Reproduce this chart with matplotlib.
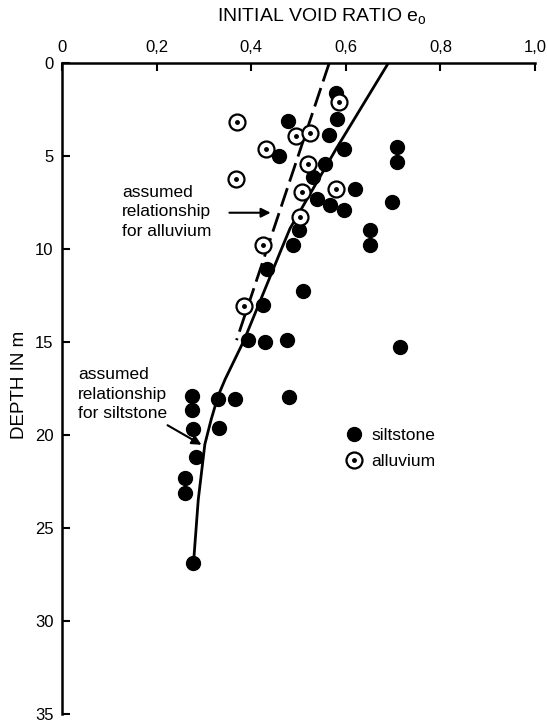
import matplotlib
matplotlib.use("Agg")
import matplotlib.pyplot as plt
from matplotlib.lines import Line2D
from matplotlib.legend_handler import HandlerTuple

plt.rcParams['font.family'] = ['Liberation Sans', 'DejaVu Sans']

# siltstone samples (void ratio, depth m)
silt_e = [0.579, 0.581, 0.477, 0.564, 0.459, 0.597, 0.709, 0.709, 0.557, 0.531,
          0.540, 0.619, 0.698, 0.567, 0.596, 0.501, 0.651, 0.651, 0.489, 0.434,
          0.509, 0.426, 0.393, 0.429, 0.476, 0.715, 0.275, 0.275, 0.330, 0.366,
          0.479, 0.278, 0.332, 0.283, 0.260, 0.259, 0.278]
silt_d = [1.63, 3.03, 3.1, 3.87, 5.0, 4.64, 4.5, 5.3, 5.43, 6.15,
          7.3, 6.77, 7.46, 7.63, 7.9, 8.97, 8.97, 9.78, 9.78, 11.1,
          12.25, 13.0, 14.9, 15.0, 14.9, 15.25, 17.9, 18.65, 18.05, 18.05,
          17.95, 19.7, 19.6, 21.2, 22.3, 23.1, 26.9]

# alluvium samples
alluv_e = [0.586, 0.369, 0.495, 0.525, 0.431, 0.520, 0.368, 0.508, 0.579, 0.503, 0.426, 0.385]
alluv_d = [2.1, 3.18, 3.9, 3.78, 4.63, 5.43, 6.22, 6.92, 6.77, 8.3, 9.8, 13.05]

# assumed relationships
silt_curve_e = [0.69, 0.58, 0.482, 0.464, 0.385, 0.345, 0.330, 0.315, 0.302, 0.288, 0.278]
silt_curve_d = [0, 4.6, 8.9, 10.0, 14.9, 17.0, 17.9, 19.2, 20.5, 23.5, 26.9]
alluv_line_e = [0.565, 0.369]
alluv_line_d = [0, 14.9]

x_ticks = [0, 0.2, 0.4, 0.6, 0.8, 1.0]
x_labels = ["0", "0,2", "0,4", "0,6", "0,8", "1,0"]
y_ticks = [0, 5, 10, 15, 20, 25, 30, 35]

fig = plt.figure(figsize=(5.48, 7.22), dpi=100)
ax = fig.add_axes([62 / 548, 1 - 714 / 722, 473 / 548, 651 / 722])

ax.plot(silt_curve_e, silt_curve_d, color='black', lw=2, zorder=2)
ax.plot(alluv_line_e, alluv_line_d, color='black', lw=2, dashes=(7, 2.5), zorder=2)

ax.plot(silt_e, silt_d, 'o', color='black', ms=10, zorder=3)
ax.plot(alluv_e, alluv_d, 'o', mfc='white', mec='black', mew=1.6, ms=11.5, zorder=4)
ax.plot(alluv_e, alluv_d, 'o', color='black', ms=2.5, zorder=5)

ax.set_xlim(0, 1.0)
ax.set_ylim(35, 0)
ax.set_xticks(x_ticks)
ax.set_xticklabels(x_labels)
ax.get_xticklabels()[-1].set_fontweight('bold')
ax.set_yticks(y_ticks)
ax.xaxis.tick_top()
ax.tick_params(axis='both', direction='in', length=6, width=1.5, labelsize=12, pad=6)
ax.spines['right'].set_visible(False)
ax.spines['bottom'].set_visible(False)
ax.spines['left'].set_linewidth(1.8)
ax.spines['top'].set_linewidth(1.8)

fig.text(322 / 548, 1 - 17 / 722, "INITIAL VOID RATIO e$_\\mathregular{o}$",
         ha='center', va='center', fontsize=14)
fig.text(20 / 548, 1 - 385 / 722, "DEPTH IN m", rotation=90,
         ha='center', va='center', fontsize=13.5)

# annotations
ax.text(0.127, 8.0, "assumed\nrelationship\nfor alluvium", ha='left', va='center',
        fontsize=12.5, linespacing=1.38)
ax.annotate("", xy=(0.447, 8.05), xytext=(0.348, 8.05),
            arrowprops=dict(arrowstyle='-|>', color='black', lw=1.5, mutation_scale=14))
ax.text(0.034, 17.8, "assumed\nrelationship\nfor siltstone", ha='left', va='center',
        fontsize=12.5, linespacing=1.38)
ax.annotate("", xy=(0.300, 20.6), xytext=(0.218, 19.4),
            arrowprops=dict(arrowstyle='-|>', color='black', lw=1.5, mutation_scale=14))

h_silt = Line2D([], [], ls='none', marker='o', color='black', ms=10)
h_ring = Line2D([], [], ls='none', marker='o', mfc='white', mec='black', mew=1.6, ms=11.5)
h_dot = Line2D([], [], ls='none', marker='o', color='black', ms=2.5)
ax.legend([h_silt, (h_ring, h_dot)], ["siltstone", "alluvium"],
          handler_map={tuple: HandlerTuple(ndivide=1)},
          loc='upper left', bbox_to_anchor=(0.566, 0.463), frameon=False,
          fontsize=12.5, handlelength=1.0, handletextpad=0.5, labelspacing=0.6)

fig.savefig("out.png", dpi=100)
